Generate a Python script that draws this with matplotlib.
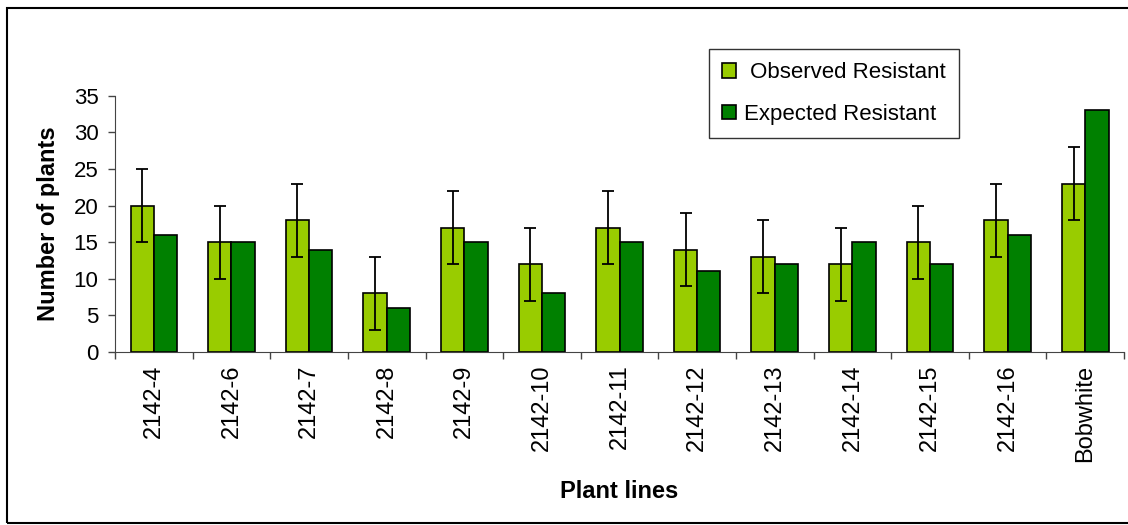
import numpy as np
import matplotlib.pyplot as plt
from matplotlib.patches import Rectangle

# data
plant_lines = ["2142-4", "2142-6", "2142-7", "2142-8", "2142-9", "2142-10", "2142-11",
               "2142-12", "2142-13", "2142-14", "2142-15", "2142-16", "Bobwhite"]
observed = [20, 15, 18, 8, 17, 12, 17, 14, 13, 12, 15, 18, 23]
expected = [16, 15, 14, 6, 15, 8, 15, 11, 12, 15, 12, 16, 33]
obs_err = [5, 5, 5, 5, 5, 5, 5, 5, 5, 5, 5, 5, 5]

light_green = "#99CC00"
dark_green = "#008000"

plt.rcParams['font.family'] = ['Liberation Sans', 'DejaVu Sans']

fig = plt.figure(figsize=(11.28, 5.25), dpi=100)
ax = fig.add_axes([0.102, 0.3295, 0.8945, 0.488])

x = np.arange(len(plant_lines))
w = 0.3
ax.bar(x - w / 2, observed, w, color=light_green, edgecolor="black", linewidth=1.2,
       label=" Observed Resistant")
ax.bar(x + w / 2, expected, w, color=dark_green, edgecolor="black", linewidth=1.2,
       label="Expected Resistant")
ax.errorbar(x - w / 2, observed, yerr=obs_err, fmt="none", ecolor="black",
            elinewidth=1.3, capsize=4, capthick=1.3)

ax.set_xlim(-0.5, len(plant_lines) - 0.5)
ax.set_ylim(0, 35)
ax.set_yticks(range(0, 36, 5))
ax.set_xticks(x)
ax.set_xticklabels(plant_lines, rotation=90, fontsize=17)
ax.tick_params(axis="x", length=0, pad=9)
# tick marks sit between the categories
ax.set_xticks(np.arange(-0.5, len(plant_lines), 1), minor=True)
ax.tick_params(axis="x", which="minor", length=5, width=1, color="#444444")
ax.tick_params(axis="y", labelsize=16, length=5, width=1, pad=7, color="#444444")

for s in ["top", "right"]:
    ax.spines[s].set_visible(False)
for s in ["left", "bottom"]:
    ax.spines[s].set_color("#444444")

ax.set_ylabel("Number of plants", fontsize=17, fontweight="bold", labelpad=10)
ax.set_xlabel("Plant lines", fontsize=17, fontweight="bold", labelpad=13)

leg = fig.legend(loc="upper left", bbox_to_anchor=(709 / 1128, 1 - 49 / 525),
                 fontsize=16, frameon=True, fancybox=False, edgecolor="black",
                 handlelength=0.6, handleheight=0.6, labelspacing=0.92,
                 borderpad=0.6, handletextpad=0.36, borderaxespad=0)
leg.get_frame().set_linewidth(1.0)

# outer frame of the chart
fig.patches.append(Rectangle((7 / 1128, 2 / 525), 1.2, 1 - 10 / 525, transform=fig.transFigure,
                             fill=False, edgecolor="black", linewidth=1.5))

fig.savefig("out.png", dpi=100)
